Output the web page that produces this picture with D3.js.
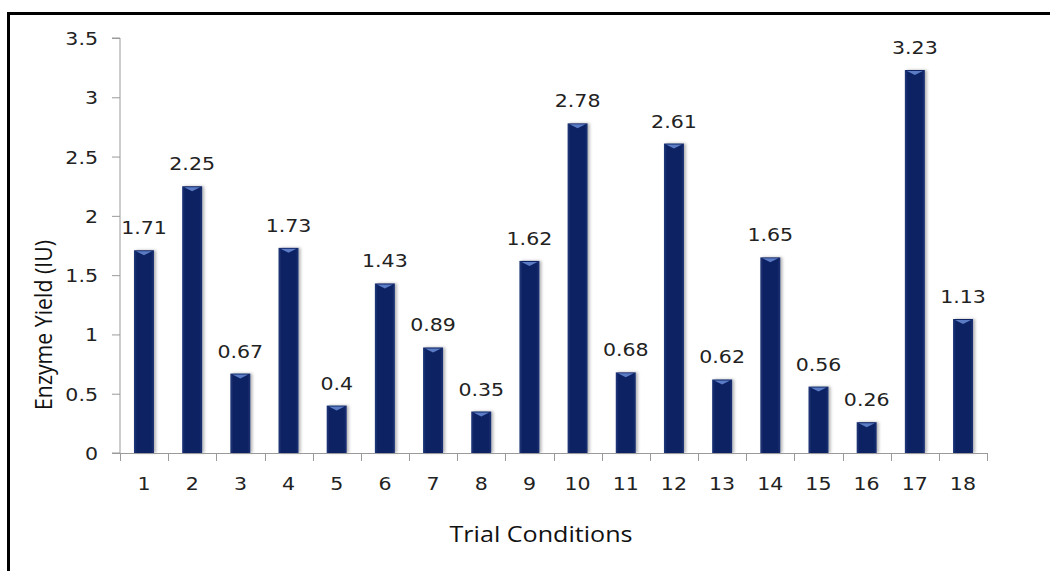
<!DOCTYPE html>
<html>
<head>
<meta charset="utf-8">
<script src="https://cdn.jsdelivr.net/npm/d3@7"></script>
<style>
  body { margin: 0; background: #fff; }
  svg { display: block; }
</style>
</head>
<body>
<div id="chart"></div>
<script>
// data
var categories = ["1","2","3","4","5","6","7","8","9","10","11","12","13","14","15","16","17","18"];
var yieldValues = [1.71, 2.25, 0.67, 1.73, 0.4, 1.43, 0.89, 0.35, 1.62, 2.78, 0.68, 2.61, 0.62, 1.65, 0.56, 0.26, 3.23, 1.13];
var yTicks = [0, 0.5, 1, 1.5, 2, 2.5, 3, 3.5];

var width = 1050, height = 571;
var plotLeft = 120, plotRight = 987, plotTop = 38, plotBottom = 453;
var numFont = "'DejaVu Sans', Verdana, sans-serif";
var titleFont = "'Open Sans', 'Noto Sans', sans-serif";
var stretch = 1.14; // reference text looks horizontally stretched
var axisGrey = "#9a9a9a";

var svg = d3.select("#chart")
    .append("svg")
    .attr("width", width)
    .attr("height", height);

svg.append("rect").attr("width", width).attr("height", height).attr("fill", "#fff");

// frame: only left and top edges show in the reference
svg.append("path")
    .attr("d", "M8.5," + height + "V13.5H" + width)
    .attr("fill", "none")
    .attr("stroke", "#000")
    .attr("stroke-width", 3);

var defs = svg.append("defs");
var grad = defs.append("linearGradient").attr("id", "barGrad")
    .attr("x1", "0").attr("x2", "1").attr("y1", "0").attr("y2", "0");
grad.append("stop").attr("offset", "0%").attr("stop-color", "#23397a");
grad.append("stop").attr("offset", "15%").attr("stop-color", "#0c2263");
grad.append("stop").attr("offset", "85%").attr("stop-color", "#0c2263");
grad.append("stop").attr("offset", "100%").attr("stop-color", "#1c3273");

var shadow = defs.append("filter").attr("id", "shadow")
    .attr("x", "-30%").attr("y", "-10%").attr("width", "170%").attr("height", "120%");
shadow.append("feDropShadow").attr("dx", 2).attr("dy", 0).attr("stdDeviation", 1.5)
    .attr("flood-color", "#000").attr("flood-opacity", 0.3);

var x = d3.scaleBand().domain(categories).range([plotLeft, plotRight]).paddingInner(0.585).paddingOuter(0.29);
var xTick = d3.scaleBand().domain(categories).range([plotLeft, plotRight]);
var y = d3.scaleLinear().domain([0, 3.5]).range([plotBottom, plotTop]);

// y-axis
var yAxis = d3.axisLeft(y).tickValues(yTicks).tickSize(8).tickPadding(14)
    .tickFormat(function (d) { return d; });
var yG = svg.append("g")
    .attr("transform", "translate(" + plotLeft + ",0)")
    .call(yAxis);
yG.select(".domain").attr("stroke", axisGrey).attr("d", "M-8," + plotBottom + "H0V" + plotTop + "H-8");
yG.selectAll(".tick line").attr("stroke", axisGrey);
yG.selectAll(".tick text")
    .attr("font-family", numFont).attr("font-size", 18).attr("fill", "#222")
    .attr("x", null).attr("dy", "0.36em")
    .attr("transform", "translate(-22,0) scale(" + stretch + ",1)");

// bars
var bars = svg.append("g").selectAll("g.bar")
    .data(yieldValues)
    .enter().append("g").attr("class", "bar");

bars.append("rect")
    .attr("x", function (d, i) { return x(categories[i]); })
    .attr("y", function (d) { return y(d); })
    .attr("width", x.bandwidth())
    .attr("height", function (d) { return plotBottom - y(d); })
    .attr("fill", "url(#barGrad)")
    .attr("filter", "url(#shadow)");

// small bevel highlight at the top of each bar
bars.append("path")
    .attr("d", function (d, i) {
        var x0 = x(categories[i]), bw = x.bandwidth(), top = y(d);
        return "M" + (x0 + 2) + "," + (top + 1) + "H" + (x0 + bw - 2) + "L" + (x0 + bw / 2) + "," + (top + 5) + "Z";
    })
    .attr("fill", "#5b7cc4");

// value labels
bars.append("text")
    .attr("transform", function (d, i) {
        return "translate(" + (x(categories[i]) + x.bandwidth() / 2) + "," + (y(d) - 16) + ") scale(" + stretch + ",1)";
    })
    .attr("text-anchor", "middle")
    .attr("font-family", numFont).attr("font-size", 18).attr("fill", "#222")
    .text(function (d) { return d; });

// x-axis
var xAxisLine = svg.append("g");
xAxisLine.append("path")
    .attr("d", "M" + (plotLeft - 8) + "," + (plotBottom + 0.5) + "H" + plotRight)
    .attr("stroke", axisGrey).attr("fill", "none");
var boundaries = categories.map(function (c) { return xTick(c); }).concat([plotRight]);
xAxisLine.selectAll("line.tk")
    .data(boundaries)
    .enter().append("line").attr("class", "tk")
    .attr("x1", function (d) { return Math.round(d) + 0.5; })
    .attr("x2", function (d) { return Math.round(d) + 0.5; })
    .attr("y1", plotBottom).attr("y2", plotBottom + 8)
    .attr("stroke", axisGrey);
xAxisLine.selectAll("text")
    .data(categories)
    .enter().append("text")
    .attr("transform", function (d) {
        return "translate(" + (xTick(d) + xTick.bandwidth() / 2) + "," + (plotBottom + 37) + ") scale(" + stretch + ",1)";
    })
    .attr("text-anchor", "middle")
    .attr("font-family", numFont).attr("font-size", 18).attr("fill", "#222")
    .text(function (d) { return d; });

// axis titles
svg.append("text")
    .attr("transform", "translate(541,542) scale(" + stretch + ",1)")
    .attr("text-anchor", "middle")
    .attr("font-family", titleFont).attr("font-size", 21).attr("fill", "#111")
    .attr("textLength", 183 / stretch).attr("lengthAdjust", "spacingAndGlyphs")
    .text("Trial Conditions");

svg.append("text")
    .attr("transform", "translate(52,325) scale(" + stretch + ",1) rotate(-90)")
    .attr("text-anchor", "middle")
    .attr("font-family", titleFont).attr("font-size", 21).attr("fill", "#111")
    .attr("textLength", 170).attr("lengthAdjust", "spacingAndGlyphs")
    .text("Enzyme Yield (IU)");
</script>
</body>
</html>
